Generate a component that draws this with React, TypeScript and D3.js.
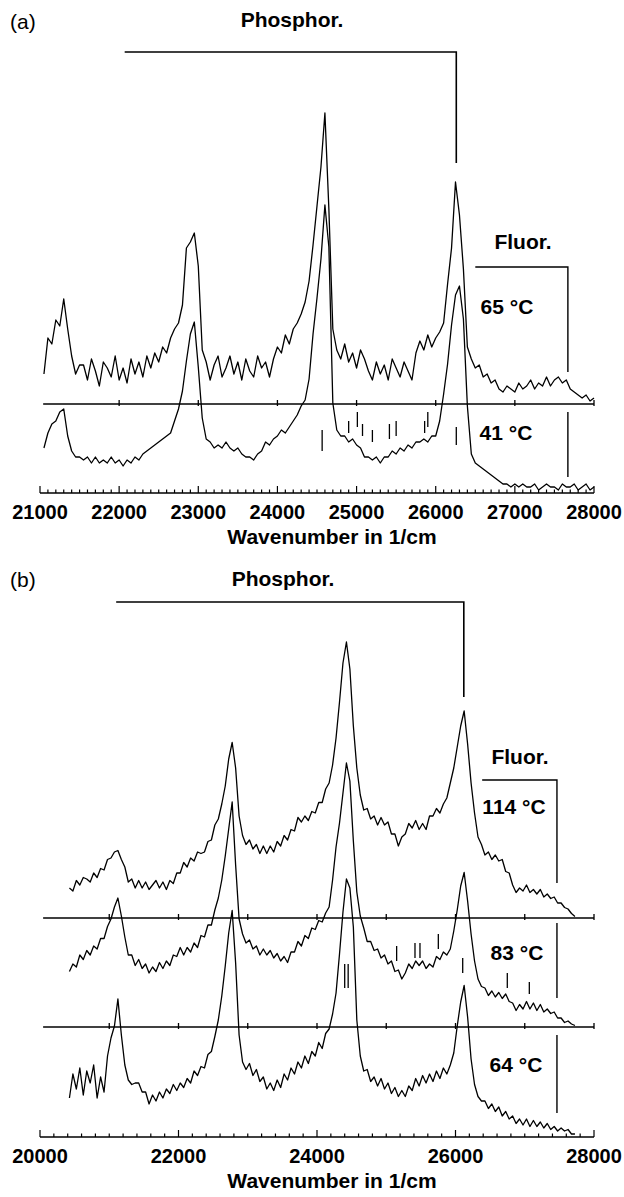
import React from 'react';
import * as d3 from 'd3';

const W = 624;
const H = 1197;
const FONT = '"Liberation Sans", Arial, Helvetica, sans-serif';

const startA = 21050;
const stepA = 50;
const spec65 = [
  10, 22, 20, 28, 26, 35, 25, 16, 10, 13,
  13, 8, 15, 11, 6, 14, 12, 9, 16, 8,
  12, 7, 15, 10, 14, 9, 16, 12, 17, 14,
  19, 17, 22, 25, 27, 33, 52, 54, 57, 46,
  18, 14, 8, 13, 16, 9, 12, 16, 10, 14,
  8, 15, 11, 9, 16, 12, 14, 9, 15, 19,
  17, 23, 20, 25, 27, 30, 34, 41, 53, 66,
  79, 97, 65, 25, 18, 15, 20, 14, 17, 12,
  18, 15, 11, 8, 14, 10, 13, 8, 15, 12,
  9, 14, 11, 8, 17, 21, 18, 23, 19, 22,
  24, 27, 40, 52, 74, 63, 45, 19, 15, 12,
  13, 9, 10, 7, 8, 5, 4, 6, 5, 4,
  7, 5, 6, 8, 5, 7, 6, 9, 6, 8,
  9, 7, 8, 5, 4, 3, 2, 3, 1, 2,
];
const spec41 = [
  15, 20, 23, 24, 27, 28, 19, 14, 12, 12,
  11, 12, 10, 12, 10, 11, 10, 12, 10, 11,
  9, 11, 10, 12, 11, 13, 14, 15, 16, 17,
  18, 19, 20, 24, 28, 34, 44, 53, 57, 42,
  25, 18, 17, 15, 16, 15, 17, 15, 14, 15,
  13, 12, 12, 11, 13, 14, 17, 16, 18, 19,
  21, 20, 22, 24, 26, 29, 31, 38, 53, 65,
  78, 96, 82, 30, 21, 19, 19, 17, 18, 16,
  15, 12, 12, 11, 12, 10, 12, 12, 14, 13,
  15, 14, 16, 15, 17, 17, 18, 17, 19, 19,
  24, 33, 43, 56, 66, 69, 58, 29, 13, 10,
  9, 8, 7, 6, 5, 4, 3, 3, 2, 3,
  2, 3, 2, 2, 3, 1, 2, 3, 2, 2,
  1, 3, 2, 2, 3, 1, 2, 3, 1, 2,
];

const startB = 20425;
const stepB = 50;
const spec114 = [
  10, 9, 12.5, 11, 13.5, 13, 12, 15, 13.5, 16.5,
  16, 19.5, 20, 22, 22.5, 19.5, 17, 12, 13, 10,
  12.5, 10, 12, 9.5, 11, 12.5, 10, 12, 9.5, 12.5,
  11.5, 15, 15, 18.5, 17, 20, 19, 22, 21.5, 22,
  25.5, 26, 31, 33, 38, 44, 53, 58.5, 50, 34,
  27.5, 24.5, 26, 23, 24.5, 21.5, 24, 21.5, 24, 22,
  25.5, 24, 27.5, 26, 29.5, 29, 33.5, 32, 34, 32.5,
  35.5, 35, 38.5, 38.5, 43, 45, 51, 60, 72, 85,
  92, 83, 64, 50, 41, 36, 36.5, 33, 34, 31,
  33.5, 31, 32, 28, 28, 24, 27, 28, 31.5, 30,
  32.5, 29.5, 31.5, 29.5, 34, 34, 36.5, 35, 38, 40,
  45, 50, 57, 64, 69, 58, 45, 35, 27, 24.5,
  21, 22, 19.5, 21, 19, 19.5, 15.5, 15, 11, 8.5,
  10, 9, 11, 8.5, 9.5, 8, 9.5, 7, 8, 6.5,
  7, 5, 5, 3.5, 3, 1.5, 0.5,
];
const spec83 = [
  18.5, 21, 20, 24, 22.5, 25.5, 24, 27, 26, 29.5,
  29.5, 33.5, 36, 40, 43, 37, 30, 24, 24, 20.5,
  22.5, 19.5, 21, 18, 20, 18.5, 21.5, 19.5, 22, 20.5,
  24, 23.5, 26.5, 24, 26.5, 25, 28, 26.5, 30.5, 30,
  34, 34, 39, 43, 49, 57, 66, 75, 54, 36,
  31, 28, 29, 26, 27, 24, 26, 24, 25.5, 23,
  24.5, 22, 23.5, 21.5, 25, 25, 28.5, 27, 30.5, 29.5,
  33, 32.5, 35.5, 35, 38, 40, 49, 60, 68, 78,
  88, 82, 62, 45, 37, 33, 28.5, 28.5, 25.5, 26,
  23, 24, 21, 22, 18.5, 19, 16, 18, 21, 19.5,
  22, 20.5, 22, 19.5, 21, 20, 23.5, 22.5, 25, 24,
  26, 32, 39, 47, 51.5, 42, 31, 22, 16, 13.5,
  13, 10.5, 12, 10, 11.5, 9.5, 11, 8.5, 8, 5.5,
  7.5, 6, 8.5, 6, 8, 5.5, 7.5, 5, 6, 4.5,
  5, 3, 3, 1.5, 2, 1, 0.5,
];
const spec64 = [
  13, 21, 16, 23, 14, 22, 18, 24, 13, 20,
  15, 27, 33, 37, 46, 34, 24, 19, 17.5, 18,
  18, 15, 15, 11, 14, 12, 15, 13, 16, 14.5,
  17.5, 15.5, 18, 16.5, 19.5, 18, 22, 20.5, 23.5, 23,
  27.5, 28.5, 33.5, 39, 47, 57, 68, 75.5, 58, 34,
  25, 22.5, 24.5, 20.5, 22.5, 18.5, 20, 16, 18, 15.5,
  19, 16.5, 21, 19, 23, 21, 25, 23, 27, 24.5,
  28.5, 27, 31.5, 29.5, 34.5, 36, 41, 48, 61, 75,
  86, 83, 70, 39, 27, 22, 22.5, 18.5, 20, 17,
  19.5, 16, 18, 14.5, 16.5, 13.5, 15.5, 13.5, 17, 15.5,
  19.5, 17, 20.5, 18, 21, 18.5, 22, 19.5, 23, 21,
  24, 28, 37, 45, 50.5, 40, 26, 17.5, 13.5, 12,
  12, 9.5, 11, 8.5, 10, 7, 8.5, 6, 7, 4.5,
  6, 4, 6, 3.5, 5.5, 3.5, 5, 3, 4.5, 2.5,
  3.5, 2, 3, 2, 2.5, 1, 1,
];

const ticksA = [21000, 22000, 23000, 24000, 25000, 26000, 27000, 28000];
const ticksB = [20000, 22000, 24000, 26000, 28000];

// band markers: [wavenumber, low, high] in the intensity units of the trace
const marks41 = [
  [24565, 14, 21], [24900, 20, 24], [25010, 22, 27], [25075, 19, 23],
  [25200, 17, 21], [25415, 18, 23], [25500, 19, 24], [25860, 20, 24],
  [25900, 22, 27], [26260, 16, 22],
];
const marks83 = [
  [24400, 13, 21], [24450, 13, 21], [25150, 22, 27], [25415, 23, 28],
  [25487, 23, 28], [25752, 26, 31], [26104, 18, 23], [26748, 13, 18],
  [27066, 11, 15],
];

// brackets: [left, right] in 1/cm
const phosA = [22070, 26260];
const fluorA = [26500, 27670];
const phosB = [21100, 26120];
const fluorB = [26385, 27465];

const xA = d3.scaleLinear().domain([21000, 28000]).range([40, 594]);
const xB = d3.scaleLinear().domain([20000, 28000]).range([40, 594]);
const yAt = (base: number) => d3.scaleLinear().domain([0, 100]).range([base, base - 300]);

const y65 = yAt(404);
const y41 = yAt(493);
const y114 = yAt(918);
const y83 = yAt(1027);
const y64 = yAt(1137);

const Trace = ({ values, start, step, x, y }: any) => {
  const line = d3.line<number>()
    .x((_, i) => x(start + i * step))
    .y(d => y(d));
  return <path d={line(values) || ''} fill="none" stroke="#000" strokeWidth={1.3} strokeLinejoin="round" />;
};

// baseline of an upper trace, small ticks every 1000
const MidAxis = ({ x, y, from, ticks }: any) => (
  <g stroke="#000">
    <line x1={x(from)} x2={x(28000)} y1={y} y2={y} strokeWidth={1.6} />
    {ticks.map((t: number) => (
      <line key={t} x1={x(t)} x2={x(t)} y1={y - 4} y2={y + 2} strokeWidth={1.3} />
    ))}
  </g>
);

const BottomAxis = ({ x, y, minor, major, labels, title }: any) => {
  const [d0, d1] = x.domain();
  const minorT = d3.range(d0, d1 + 1, minor);
  return (
    <g>
      <line x1={x(d0)} x2={x(d1)} y1={y} y2={y} stroke="#000" strokeWidth={1.6} />
      {minorT.map((t: number) => {
        const big = (t - d0) % major === 0;
        return <line key={t} x1={x(t)} x2={x(t)} y1={y} y2={y - (big ? 7 : 3.5)} stroke="#000" strokeWidth={1.2} />;
      })}
      {labels.map((t: number) => (
        <text key={t} x={x(t)} y={y + 26} textAnchor="middle" fontFamily={FONT} fontWeight="bold" fontSize={20}>{t}</text>
      ))}
      <text x={332} y={y + 51} textAnchor="middle" fontFamily={FONT} fontWeight="bold" fontSize={21}>{title}</text>
    </g>
  );
};

const Marks = ({ marks, x, y }: any) => (
  <g stroke="#000" strokeWidth={1.3}>
    {marks.map((m: number[], i: number) => (
      <line key={i} x1={x(m[0])} x2={x(m[0])} y1={y(m[1])} y2={y(m[2])} />
    ))}
  </g>
);

const Label = ({ x, y, children, bold = true, anchor = 'middle' }: any) => (
  <text x={x} y={y} textAnchor={anchor} fontFamily={FONT} fontWeight={bold ? 'bold' : 'normal'} fontSize={21}>{children}</text>
);

export default function App() {
  const midTicksB = d3.range(21000, 28001, 1000);
  return (
    <svg width={W} height={H} viewBox={`0 0 ${W} ${H}`} style={{ position: 'absolute', left: 0, top: 0, background: '#fff' }}>
      {/* panel (a) */}
      <Label x={10} y={29} bold={false} anchor="start">(a)</Label>
      <Label x={292} y={27}>Phosphor.</Label>
      <path d={`M${xA(phosA[0])},52H${xA(phosA[1])}V163`} fill="none" stroke="#000" strokeWidth={1.6} />
      <Label x={523} y={249}>Fluor.</Label>
      <path d={`M${xA(fluorA[0])},267H${xA(fluorA[1])}V372`} fill="none" stroke="#000" strokeWidth={1.4} />
      <line x1={xA(fluorA[1])} x2={xA(fluorA[1])} y1={412} y2={477} stroke="#000" strokeWidth={1.4} />
      <Label x={507} y={314}>65 °C</Label>
      <Label x={506} y={440}>41 °C</Label>
      <MidAxis x={xA} y={404} from={21040} ticks={ticksA.slice(1)} />
      <Trace values={spec65} start={startA} step={stepA} x={xA} y={y65} />
      <Trace values={spec41} start={startA} step={stepA} x={xA} y={y41} />
      <Marks marks={marks41} x={xA} y={y41} />
      <BottomAxis x={xA} y={493} minor={100} major={1000} labels={ticksA} title="Wavenumber in 1/cm" />

      {/* panel (b) */}
      <Label x={10} y={587} bold={false} anchor="start">(b)</Label>
      <Label x={283} y={586}>Phosphor.</Label>
      <path d={`M${xB(phosB[0])},602H${xB(phosB[1])}V697`} fill="none" stroke="#000" strokeWidth={1.6} />
      <Label x={520} y={764}>Fluor.</Label>
      <path d={`M${xB(fluorB[0])},780H${xB(fluorB[1])}V883`} fill="none" stroke="#000" strokeWidth={1.4} />
      <line x1={xB(fluorB[1])} x2={xB(fluorB[1])} y1={923} y2={998} stroke="#000" strokeWidth={1.4} />
      <line x1={xB(fluorB[1])} x2={xB(fluorB[1])} y1={1035} y2={1113} stroke="#000" strokeWidth={1.4} />
      <Label x={514} y={814}>114 °C</Label>
      <Label x={517} y={960}>83 °C</Label>
      <Label x={516} y={1072}>64 °C</Label>
      <MidAxis x={xB} y={918} from={20045} ticks={midTicksB} />
      <MidAxis x={xB} y={1027} from={20045} ticks={midTicksB} />
      <Trace values={spec114} start={startB} step={stepB} x={xB} y={y114} />
      <Trace values={spec83} start={startB} step={stepB} x={xB} y={y83} />
      <Trace values={spec64} start={startB} step={stepB} x={xB} y={y64} />
      <Marks marks={marks83} x={xB} y={y83} />
      <BottomAxis x={xB} y={1137} minor={200} major={2000} labels={ticksB} title="Wavenumber in 1/cm" />
    </svg>
  );
}
